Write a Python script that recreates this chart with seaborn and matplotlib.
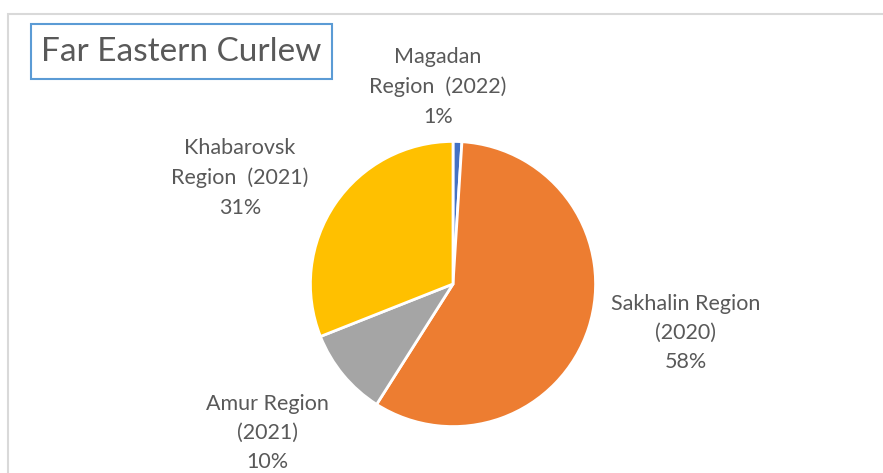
import matplotlib
matplotlib.use("Agg")
import matplotlib.pyplot as plt
import seaborn as sns
from matplotlib.patches import Rectangle

sns.set_theme(style="white")
plt.rcParams['font.family'] = ['Lato', 'DejaVu Sans']

# Data
regions = ["Magadan\nRegion  (2022)", "Sakhalin Region\n(2020)", "Amur Region\n(2021)", "Khabarovsk\nRegion  (2021)"]
shares = [1, 58, 10, 31]
colors = ["#4472C4", "#ED7D31", "#A5A5A5", "#FFC000"]
title = "Far Eastern Curlew"

W, H = 883, 473
fig = plt.figure(figsize=(W / 100, H / 100), dpi=100)
fig.patch.set_facecolor("white")

def fx(px):
    return px / W

def fy(py):
    return 1 - py / H

# chart border
fig.patches.append(Rectangle((fx(8), fy(H + 5)), fx(W + 5) - fx(8), fy(14) - fy(H + 5),
                             transform=fig.transFigure, fill=False,
                             edgecolor="#D9D9D9", linewidth=1.5))

# pie axes
cx, cy, r = 453, 284, 144
ax = fig.add_axes([fx(cx - r), fy(cy + r), 2 * r / W, 2 * r / H])
wedges, _ = ax.pie(shares, colors=colors, startangle=90, counterclock=False,
                   radius=1, wedgeprops=dict(edgecolor="white", linewidth=2))
ax.set_xlim(-1.01, 1.01)
ax.set_ylim(-1.01, 1.01)
ax.set_aspect("equal")
ax.axis("off")

# labels
label_pos = [(438, 87), (686, 333), (267, 433), (240, 178)]
for lab, val, (px, py) in zip(regions, shares, label_pos):
    fig.text(fx(px), fy(py), f"{lab}\n{val}%", ha="center", va="center",
             fontsize=15.5, color="#595959", linespacing=1.58)

# title with box
fig.text(fx(181), fy(52), title, ha="center", va="center", fontsize=24,
         color="#595959")
fig.patches.append(Rectangle((fx(31), fy(79)), fx(332) - fx(31), fy(24) - fy(79),
                             transform=fig.transFigure, fill=False,
                             edgecolor="#5B9BD5", linewidth=1.5))

fig.savefig("out.png", dpi=100, facecolor="white")
